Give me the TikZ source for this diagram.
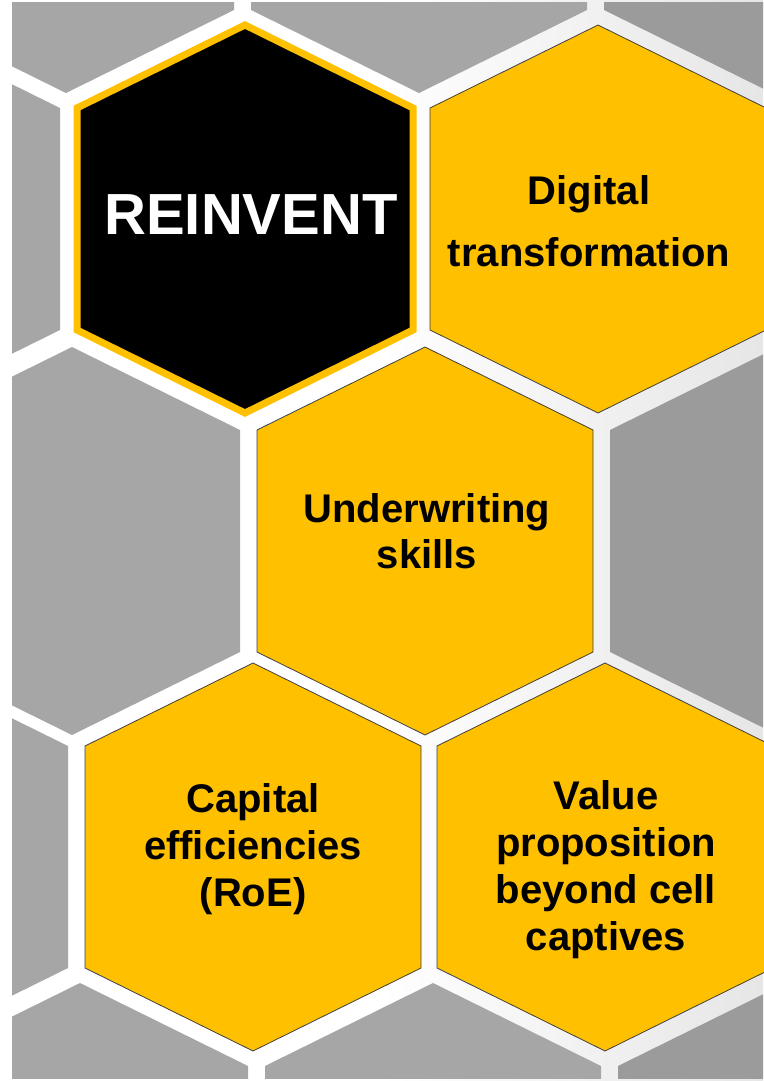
\documentclass[tikz,border=0pt]{standalone}
\usepackage{fontspec}
\setmainfont{Liberation Sans}

\definecolor{cellgold}{HTML}{FFC000}
\definecolor{cellgrey}{HTML}{A6A6A6}
\definecolor{cellgreyright}{HTML}{9B9B9B}
\definecolor{gapgrey}{HTML}{E6E6E6}
\definecolor{celledge}{HTML}{404040}

\begin{document}
\begin{tikzpicture}[x=1pt, y=-1pt,
  hexcell/.style={insert path={++(0,-194) -- ++(168,83) -- ++(0,222) -- ++(-168,83) -- ++(-168,-83) -- ++(0,-222) -- cycle}},
  greycell/.style={fill=cellgrey},
  goldcell/.style={fill=cellgold, draw=celledge, line width=0.8pt},
  blackcell/.style={fill=black, draw=cellgold, line width=7pt},
  celltext/.style={align=center, inner sep=0pt, font=\bfseries\fontsize{40}{47}\selectfont}]
\useasboundingbox (0,0) rectangle (763,1081);
\fill [white] (0,0) rectangle (763,1081);
\shade [left color=white, right color=gapgrey] (380,0) rectangle (763,1081);

\begin{scope}
  \clip (12,3) rectangle (763,1078);
  \foreach \cx/\cy in {66/-101, 419/-101, -108/219, 72/541, -100/857, 80/1177, 433/1177}
    \fill [greycell] (\cx,\cy) [hexcell];
  \foreach \cx/\cy in {772/-101, 778/541, 786/1177}
    \fill [greycell, fill=cellgreyright] (\cx,\cy) [hexcell];
\end{scope}

\draw [blackcell] (245,219) [hexcell];
\draw [goldcell] (598,219) [hexcell];
\draw [goldcell] (425,541) [hexcell];
\draw [goldcell] (253,857) [hexcell];
\draw [goldcell] (605,857) [hexcell];

\node [celltext, text=white, font=\bfseries\fontsize{58}{60}\selectfont] (reinvent) at (251,215) {REINVENT};
\node [celltext, font=\bfseries\fontsize{40}{62}\selectfont] (digital) at (589,221.5) {Digital\\transformation};
\node [celltext, font=\bfseries\fontsize{40}{46}\selectfont] (underwriting) at (427,531.5) {Underwriting\\skills};
\node [celltext] (capital) at (253,849) {Capital\\efficiencies\\(RoE)};
\node [celltext] (value) at (606,870) {Value\\proposition\\beyond cell\\captives};
\end{tikzpicture}
\end{document}
